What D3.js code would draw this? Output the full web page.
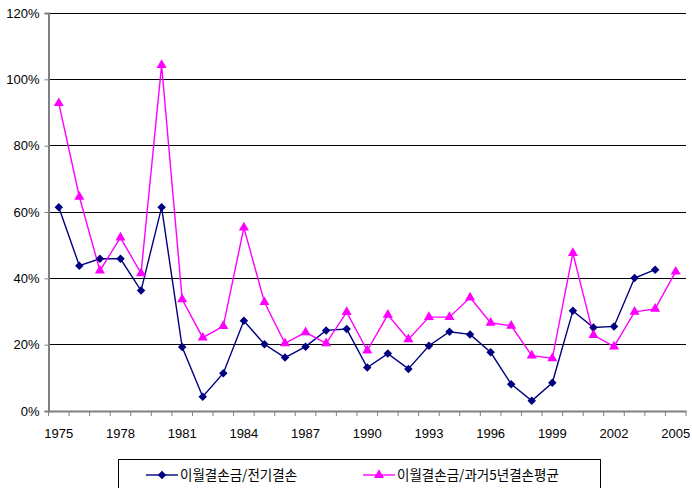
<!DOCTYPE html>
<html><head><meta charset="utf-8">
<script src="https://cdn.jsdelivr.net/npm/d3@7"></script>
<style>body{margin:0;background:#fff}svg{display:block}</style>
</head><body>
<svg id="c" width="692" height="488"></svg>
<script>
const years = d3.range(1975, 2006);
const tickLabels = [1975,1978,1981,1984,1987,1990,1993,1996,1999,2002,2005];
const yTicks = [0,0.2,0.4,0.6,0.8,1.0,1.2];
const seriesNames = ["이월결손금/전기결손", "이월결손금/과거5년결손평균"];
const seriesA = [61.4,43.8,45.9,45.9,36.3,61.4,19.3,4.3,11.4,27.2,20.1,16.1,19.4,24.3,24.7,13.1,17.3,12.7,19.7,23.9,23.1,17.7,8.1,3.1,8.5,30.2,25.2,25.5,40.1,42.6,null];
const seriesB = [92.8,64.6,42.3,52.3,41.5,104.3,33.7,22.1,25.6,55.3,32.8,20.4,23.7,20.4,29.8,18.2,29.0,21.6,28.3,28.3,34.2,26.6,25.7,16.7,15.9,47.6,22.9,19.4,29.9,30.8,42.0];

const svg = d3.select("#c");
const L = 48.5, R = 686, T = 13, B = 411;
const x = d3.scaleBand().domain(years).range([L, R]);
const y = d3.scaleLinear().domain([0, 1.2]).range([B, T]);

// gridlines
svg.append("g").selectAll("line").data(yTicks.filter(d=>d>0)).join("line")
  .attr("x1", L).attr("x2", R).attr("y1", d=>y(d)).attr("y2", d=>y(d))
  .attr("stroke", "#000").attr("stroke-width", 1).attr("shape-rendering","crispEdges");

// y axis
const ya = svg.append("g").attr("transform", `translate(${L},0)`)
  .call(d3.axisLeft(y).tickValues(yTicks).tickFormat(d=>Math.round(d*100)+"%").tickSize(4).tickPadding(5));
ya.select(".domain").attr("stroke","#808080").attr("stroke-width",2);
ya.selectAll(".tick line").attr("stroke","#808080");
ya.selectAll("text").attr("font-family","'Liberation Sans', Arial, sans-serif").attr("font-size",13).attr("fill","#000");

// x axis
const xa = svg.append("g").attr("transform", `translate(0,${B})`)
  .call(d3.axisBottom(x).tickValues(tickLabels).tickSize(0).tickPadding(17.5));
xa.select(".domain").attr("stroke","#808080").attr("stroke-width",2);
xa.selectAll("text").attr("font-family","'Liberation Sans', Arial, sans-serif").attr("font-size",13).attr("fill","#000");
// minor ticks at band boundaries
svg.append("g").selectAll("line").data(years.concat([2006])).join("line")
  .attr("x1", d=> d===2006 ? R : x(d)).attr("x2", d=> d===2006 ? R : x(d))
  .attr("y1", B).attr("y2", B+5).attr("stroke","#808080").attr("stroke-width",1);

const cx = d => x(d) + x.bandwidth()/2;
const colA = "#000080", colB = "#FF00FF";
const dataA = years.map((yr,i)=>({yr, v: seriesA[i]})).filter(d=>d.v!=null);
const dataB = years.map((yr,i)=>({yr, v: seriesB[i]})).filter(d=>d.v!=null);
const line = d3.line().x(d=>cx(d.yr)).y(d=>y(d.v/100));

svg.append("path").datum(dataA).attr("d", line).attr("fill","none").attr("stroke",colA).attr("stroke-width",1.4);
svg.append("path").datum(dataB).attr("d", line).attr("fill","none").attr("stroke",colB).attr("stroke-width",1.4);

const diamond = d3.symbol().type(d3.symbolDiamond2).size(46);
const tri = d3.symbol().type(d3.symbolTriangle).size(44);
svg.append("g").selectAll("path").data(dataA).join("path")
  .attr("d", diamond).attr("transform", d=>`translate(${cx(d.yr)},${y(d.v/100)})`).attr("fill", colA);
svg.append("g").selectAll("path").data(dataB).join("path")
  .attr("d", tri).attr("transform", d=>`translate(${cx(d.yr)},${y(d.v/100)})`).attr("fill", colB);

// legend
const lg = svg.append("g");
lg.append("rect").attr("x",118.5).attr("y",459.5).attr("width",482).attr("height",40)
  .attr("fill","#fff").attr("stroke","#000").attr("stroke-width",1);
const items = [{name: seriesNames[0], col: colA, sym: diamond, x0: 146},{name: seriesNames[1], col: colB, sym: tri, x0: 363}];
items.forEach(it=>{
  lg.append("line").attr("x1",it.x0).attr("x2",it.x0+32).attr("y1",475).attr("y2",475).attr("stroke",it.col).attr("stroke-width",1.4);
  lg.append("path").attr("d", it.sym).attr("transform",`translate(${it.x0+16},475)`).attr("fill",it.col);
  lg.append("text").attr("x", it.x0+34).attr("y", 480).text(it.name)
    .attr("font-family","'Noto Sans CJK KR', sans-serif").attr("font-size",13.5).attr("fill","#000");
});
</script>
</body></html>
